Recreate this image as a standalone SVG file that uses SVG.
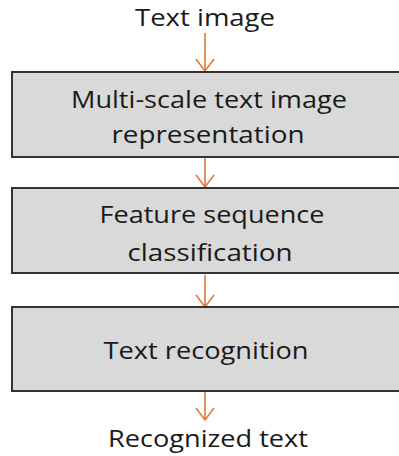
<svg xmlns="http://www.w3.org/2000/svg" width="399" height="456" viewBox="0 0 399 456">
<style>
.box{fill:#d9d9d9;stroke:#333333;stroke-width:2}
.t{font-family:"Open Sans","Lato","Liberation Sans",sans-serif;font-size:24px;fill:#1a1a1a;text-anchor:middle}
.c{stroke:#e07b39;stroke-width:1.6;fill:none}
</style>
<rect width="399" height="456" fill="#ffffff"/>
<g id="connectors">
<path class="c" d="M205,33 V71 M196,59 L205,71 L214,59"/>
<path class="c" d="M205,157 V187 M196,175 L205,187 L214,175"/>
<path class="c" d="M205,275 V307 M196,295 L205,307 L214,295"/>
<path class="c" d="M205,392 V420 M196,408 L205,420 L214,408"/>
</g>
<g id="input"><text class="t" x="205" y="26" textLength="140" lengthAdjust="spacingAndGlyphs">Text image</text></g>
<g id="n1">
<rect class="box" x="12" y="72" width="390" height="85"/>
<text class="t" x="209" y="108" textLength="276" lengthAdjust="spacingAndGlyphs">Multi-scale text image</text>
<text class="t" x="208" y="143" textLength="193" lengthAdjust="spacingAndGlyphs">representation</text>
</g>
<g id="n2">
<rect class="box" x="12" y="188" width="390" height="85"/>
<text class="t" x="212" y="223" textLength="225" lengthAdjust="spacingAndGlyphs">Feature sequence</text>
<text class="t" x="210" y="261" textLength="165" lengthAdjust="spacingAndGlyphs">classification</text>
</g>
<g id="n3">
<rect class="box" x="12" y="307" width="390" height="84"/>
<text class="t" x="206" y="359" textLength="205" lengthAdjust="spacingAndGlyphs">Text recognition</text>
</g>
<g id="output"><text class="t" x="208" y="447" textLength="200" lengthAdjust="spacingAndGlyphs">Recognized text</text></g>
</svg>
